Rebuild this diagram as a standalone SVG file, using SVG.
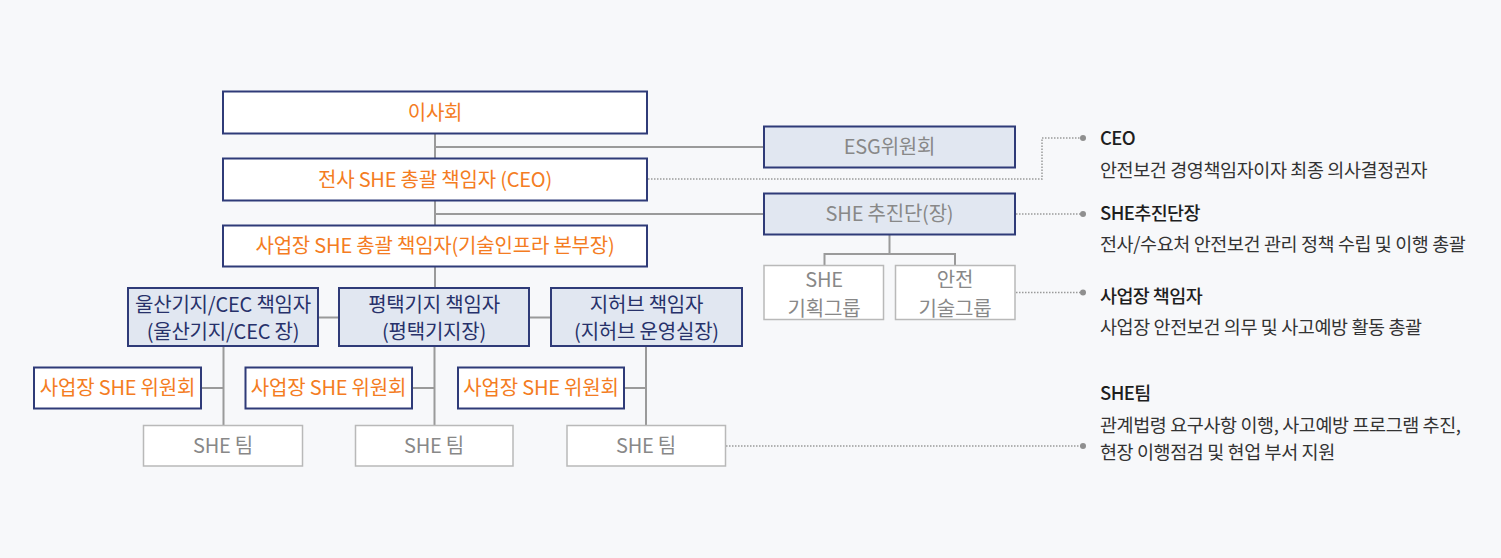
<svg xmlns="http://www.w3.org/2000/svg" width="1501" height="558" viewBox="0 0 1501 558">
<style>
text{font-family:"Noto Sans CJK KR","Noto Sans",sans-serif;font-size:20px;text-anchor:middle;letter-spacing:-0.2px}
.nav{fill:#ffffff;stroke:#2f3b78;stroke-width:2}
.navb{fill:#e1e7f1;stroke:#2f3b78;stroke-width:2}
.gry{fill:#ffffff;stroke:#b9b9b9;stroke-width:1.5}
.or{fill:#f47c22}
.nt{fill:#27316a}
.gt{fill:#888888}
.ln{stroke:#9a9a9a;stroke-width:2;fill:none}
.dt{stroke:#9a9a9a;stroke-width:1.5;fill:none;stroke-dasharray:1.5 1.5}
.dot{fill:#8f8f8f}
.ht{text-anchor:start;font-size:18.5px;fill:#1e1e1e;font-weight:500;letter-spacing:-0.6px}
.dsc{text-anchor:start;font-size:18.5px;fill:#333333;letter-spacing:-0.4px}
</style>
<rect width="1501" height="558" fill="#f7f8fa"/>
<g id="connectors">
<path class="ln" d="M435 134V225M435 267V288M435 147H764M435 214H764"/>
<path class="ln" d="M889.5 234.5V254M824.5 265V254H955V265"/>
<path class="ln" d="M318 317.5H339M529 317.5H551"/>
<path class="ln" d="M223.5 346V425M201 388H223.5"/>
<path class="ln" d="M434.5 346V425M412 388H434.5"/>
<path class="ln" d="M646 346V425M624 388H646"/>
<path class="dt" d="M648 179H1042V138H1082"/>
<path class="dt" d="M1016 214H1082"/>
<path class="dt" d="M1016 292.5H1082"/>
<path class="dt" d="M726 446H1082"/>
<circle class="dot" cx="1083" cy="138" r="3"/>
<circle class="dot" cx="1083" cy="214" r="3"/>
<circle class="dot" cx="1083" cy="292.5" r="3"/>
<circle class="dot" cx="1083" cy="446" r="3"/>
</g>
<g id="board"><rect class="nav" x="223" y="91.5" width="424" height="42"/><text class="or" x="435" y="119.5">이사회</text></g>
<g id="ceo"><rect class="nav" x="223" y="158.5" width="424" height="42"/><text class="or" x="435" y="186.5">전사 SHE 총괄 책임자 (CEO)</text></g>
<g id="site-head"><rect class="nav" x="223" y="225.5" width="424" height="41"/><text class="or" x="435" y="253">사업장 SHE 총괄 책임자(기술인프라 본부장)</text></g>
<g id="esg"><rect class="navb" x="764" y="126.5" width="251" height="41"/><text class="gt" x="889.5" y="154">ESG위원회</text></g>
<g id="she-unit"><rect class="navb" x="764" y="193.5" width="251" height="41"/><text class="gt" x="889.5" y="221">SHE 추진단(장)</text></g>
<g id="she-plan"><rect class="gry" x="764" y="265.5" width="119.5" height="54"/><text class="gt" x="824" y="287">SHE</text><text class="gt" x="824" y="316">기획그룹</text></g>
<g id="safety-tech"><rect class="gry" x="895.5" y="265.5" width="119.5" height="54"/><text class="gt" x="955" y="287">안전</text><text class="gt" x="955" y="316">기술그룹</text></g>
<g id="ulsan"><rect class="navb" x="128" y="288" width="190" height="58"/><text class="nt" x="223" y="312">울산기지/CEC 책임자</text><text class="nt" x="223" y="338.5">(울산기지/CEC 장)</text></g>
<g id="pyeongtaek"><rect class="navb" x="339" y="288" width="190" height="58"/><text class="nt" x="434" y="312">평택기지 책임자</text><text class="nt" x="434" y="338.5">(평택기지장)</text></g>
<g id="jihub"><rect class="navb" x="551" y="288" width="191" height="58"/><text class="nt" x="646.5" y="312">지허브 책임자</text><text class="nt" x="646.5" y="338.5">(지허브 운영실장)</text></g>
<g id="committee-1"><rect class="nav" x="34" y="367.5" width="167" height="41"/><text class="or" x="117.5" y="395">사업장 SHE 위원회</text></g>
<g id="committee-2"><rect class="nav" x="245.5" y="367.5" width="166.5" height="41"/><text class="or" x="328.5" y="395">사업장 SHE 위원회</text></g>
<g id="committee-3"><rect class="nav" x="458" y="367.5" width="166" height="41"/><text class="or" x="541" y="395">사업장 SHE 위원회</text></g>
<g id="team-1"><rect class="gry" x="143.5" y="425.5" width="159" height="40.5"/><text class="gt" x="223" y="452.5">SHE 팀</text></g>
<g id="team-2"><rect class="gry" x="355.5" y="425.5" width="157.5" height="40.5"/><text class="gt" x="434" y="452.5">SHE 팀</text></g>
<g id="team-3"><rect class="gry" x="567" y="425.5" width="158.5" height="40.5"/><text class="gt" x="646" y="452.5">SHE 팀</text></g>
<g id="legend">
<text class="ht" x="1100" y="145">CEO</text>
<text class="dsc" x="1100" y="177">안전보건 경영책임자이자 최종 의사결정권자</text>
<text class="ht" x="1100" y="220">SHE추진단장</text>
<text class="dsc" x="1100" y="251">전사/수요처 안전보건 관리 정책 수립 및 이행 총괄</text>
<text class="ht" x="1100" y="303">사업장 책임자</text>
<text class="dsc" x="1100" y="334">사업장 안전보건 의무 및 사고예방 활동 총괄</text>
<text class="ht" x="1100" y="400">SHE팀</text>
<text class="dsc" x="1100" y="432">관계법령 요구사항 이행, 사고예방 프로그램 추진,</text>
<text class="dsc" x="1100" y="459">현장 이행점검 및 현업 부서 지원</text>
</g>
</svg>
